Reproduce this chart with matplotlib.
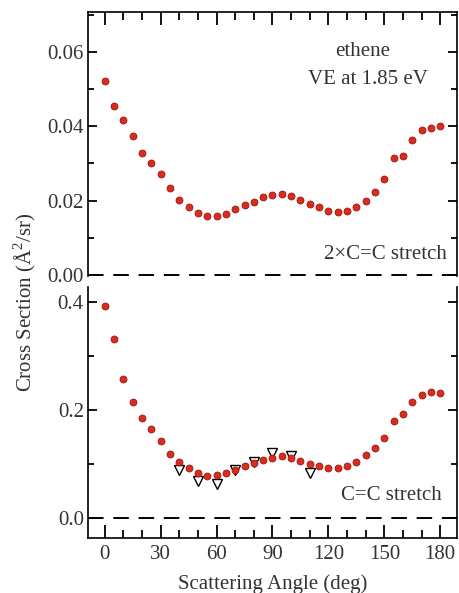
import matplotlib
matplotlib.use("Agg")
import matplotlib.pyplot as plt
from matplotlib.ticker import MultipleLocator

plt.rcParams['font.family'] = ['Liberation Serif', 'DejaVu Serif']
plt.rcParams['mathtext.fontset'] = 'custom'
plt.rcParams['mathtext.rm'] = 'Liberation Serif'

# scattering angles (deg)
angle = list(range(0, 181, 5))

# 2 x C=C stretch, upper panel
cs_2cc = [0.0523, 0.0455, 0.0416, 0.0373, 0.0329, 0.0300, 0.0273, 0.0234,
          0.0203, 0.0182, 0.0166, 0.0159, 0.0158, 0.0165, 0.0177, 0.0187,
          0.0197, 0.0209, 0.0215, 0.0218, 0.0212, 0.0201, 0.0192, 0.0183,
          0.0173, 0.0170, 0.0173, 0.0183, 0.0200, 0.0223, 0.0258, 0.0316,
          0.0320, 0.0362, 0.0389, 0.0396, 0.0401]

# C=C stretch, lower panel
cs_cc = [0.394, 0.333, 0.258, 0.215, 0.186, 0.166, 0.143, 0.119,
         0.105, 0.0935, 0.0842, 0.0793, 0.0805, 0.0842, 0.0898, 0.0966,
         0.102, 0.108, 0.112, 0.115, 0.111, 0.1065, 0.100, 0.0972,
         0.0935, 0.0929, 0.0966, 0.105, 0.117, 0.131, 0.149, 0.181,
         0.193, 0.216, 0.229, 0.234, 0.232]

# measured points (open triangles)
exp_angle = [40, 50, 60, 70, 80, 90, 100, 110]
exp_cc = [0.0904, 0.0687, 0.0644, 0.0898, 0.105, 0.121, 0.1146, 0.0842]

txt = '#333333'
red = '#d92b1f'
red_edge = '#9a1a10'

fig = plt.figure(figsize=(4.59, 5.93), dpi=100)
ax1 = fig.add_axes([0.1917, 0.5351, 0.8039, 0.4442])
ax2 = fig.add_axes([0.1917, 0.0927, 0.8039, 0.4238])

for ax in (ax1, ax2):
    ax.set_xlim(-9, 189)
    ax.axhline(0, color='black', lw=1.4, ls=(0, (8, 5)), clip_on=False, zorder=1)
    for s in ax.spines.values():
        s.set_linewidth(1.2)
    ax.xaxis.set_major_locator(MultipleLocator(30))
    ax.xaxis.set_minor_locator(MultipleLocator(10))
    ax.tick_params(axis='x', which='major', direction='in', length=9.5, width=1.3)
    ax.tick_params(axis='x', which='minor', direction='in', length=5.5, width=1.3)
    ax.tick_params(axis='y', which='major', direction='in', length=6.5, width=1.3,
                   left=True, right=True, pad=3)
    ax.tick_params(axis='y', which='minor', direction='in', length=4.3, width=1.3,
                   left=True, right=True)
    ax.tick_params(labelsize=15, labelcolor=txt)

ax1.plot(angle, cs_2cc, 'o', ms=5, mfc=red, mec=red_edge, mew=0.6, zorder=3)
ax1.set_ylim(-0.0002, 0.0707)
ax1.yaxis.set_major_locator(MultipleLocator(0.02))
ax1.yaxis.set_minor_locator(MultipleLocator(0.01))
ax1.yaxis.set_major_formatter(lambda v, p: f"{v:.2f}")
ax1.spines['bottom'].set_visible(False)
ax1.tick_params(axis='x', which='both', top=True, bottom=False, labelbottom=False)
ax1.text(0.745, 0.85, 'ethene', transform=ax1.transAxes, ha='center', va='center',
         fontsize=15, color=txt)
ax1.text(0.76, 0.745, 'VE at 1.85 eV', transform=ax1.transAxes, ha='center',
         va='center', fontsize=15, color=txt)
ax1.text(0.973, 0.08, '2×C=C stretch', transform=ax1.transAxes, ha='right',
         va='center', fontsize=15, color=txt)

ax2.plot(exp_angle, exp_cc, 'v', ms=7.5, mfc='white', mec='black', mew=1.0, zorder=2)
ax2.plot(angle, cs_cc, 'o', ms=5, mfc=red, mec=red_edge, mew=0.6, zorder=3)
ax2.set_ylim(-0.0365, 0.429)
ax2.yaxis.set_major_locator(MultipleLocator(0.2))
ax2.yaxis.set_minor_locator(MultipleLocator(0.1))
ax2.yaxis.set_major_formatter(lambda v, p: f"{v:.1f}")
ax2.spines['top'].set_visible(False)
ax2.tick_params(axis='x', which='both', top=False, bottom=True, pad=5)
ax2.text(0.96, 0.17, 'C=C stretch', transform=ax2.transAxes, ha='right',
         va='center', fontsize=15, color=txt)

fig.text(272.5 / 459, 0.006, 'Scattering Angle (deg)', ha='center', va='baseline',
         fontsize=15, color=txt)
fig.text(25 / 459, 1 - 302 / 593, 'Cross Section (Å$^{2}$/sr)', rotation=90,
         ha='center', va='center', fontsize=15, color=txt)

fig.savefig('out.png', dpi=100)
